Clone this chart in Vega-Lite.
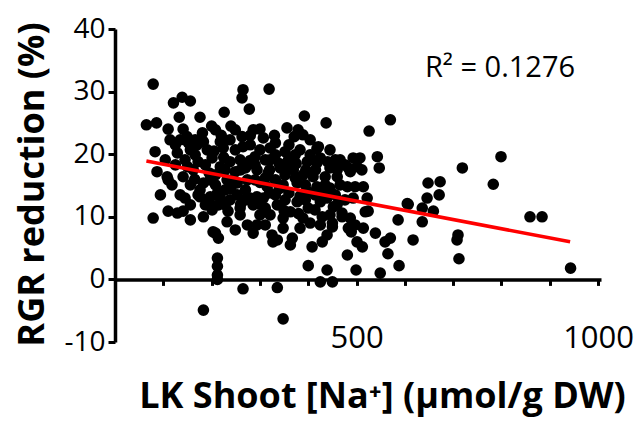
{
  "$schema": "https://vega.github.io/schema/vega-lite/v6.json",
  "width": 486,
  "height": 313,
  "autosize": "none",
  "padding": {"left": 115, "top": 29, "right": 36, "bottom": 81},
  "background": "white",
  "config": {
    "view": {"stroke": null},
    "axis": {"domainColor": "black", "tickColor": "black", "labelColor": "black", "titleColor": "black", "grid": false, "labelFont": "Open Sans", "titleFont": "Open Sans"}
  },
  "datasets": {
    "points": [
      {"na":79,"rgr":31.2},{"na":139,"rgr":29.1},{"na":121,"rgr":28.2},{"na":156,"rgr":28.5},{"na":265,"rgr":30.3},{"na":263,"rgr":29.0},{"na":278,"rgr":27.2},{"na":319,"rgr":30.4},{"na":176,"rgr":25.9},{"na":226,"rgr":26.7},
      {"na":392,"rgr":26.1},{"na":437,"rgr":25.0},{"na":526,"rgr":23.7},{"na":570,"rgr":25.5},{"na":65,"rgr":24.7},{"na":86,"rgr":25.0},{"na":110,"rgr":24.0},{"na":356,"rgr":24.2},{"na":286,"rgr":23.9},{"na":332,"rgr":21.8},
      {"na":371,"rgr":22.8},{"na":133,"rgr":25.9},{"na":141,"rgr":24.0},{"na":149,"rgr":22.8},{"na":181,"rgr":23.4},{"na":135,"rgr":22.3},{"na":152,"rgr":21.8},{"na":183,"rgr":22.0},{"na":218,"rgr":22.0},{"na":238,"rgr":22.3},
      {"na":263,"rgr":22.8},{"na":83,"rgr":20.4},{"na":129,"rgr":20.2},{"na":156,"rgr":20.7},{"na":191,"rgr":20.7},{"na":224,"rgr":21.0},{"na":249,"rgr":20.7},{"na":265,"rgr":21.2},{"na":87,"rgr":17.2},{"na":108,"rgr":16.4},
      {"na":118,"rgr":15.1},{"na":141,"rgr":16.4},{"na":162,"rgr":17.5},{"na":172,"rgr":18.8},{"na":201,"rgr":19.4},{"na":218,"rgr":18.0},{"na":238,"rgr":18.8},{"na":259,"rgr":19.1},{"na":183,"rgr":15.4},{"na":208,"rgr":15.1},
      {"na":232,"rgr":15.9},{"na":253,"rgr":15.4},{"na":274,"rgr":15.9},{"na":94,"rgr":13.5},{"na":172,"rgr":13.5},{"na":212,"rgr":13.8},{"na":253,"rgr":13.5},{"na":110,"rgr":15.9},{"na":379,"rgr":23.9},{"na":389,"rgr":23.1},
      {"na":307,"rgr":22.6},{"na":383,"rgr":20.7},{"na":418,"rgr":20.9},{"na":445,"rgr":20.7},{"na":466,"rgr":19.1},{"na":493,"rgr":19.4},{"na":290,"rgr":19.6},{"na":321,"rgr":19.1},{"na":359,"rgr":19.1},{"na":398,"rgr":18.8},
      {"na":418,"rgr":18.6},{"na":445,"rgr":17.8},{"na":294,"rgr":17.5},{"na":317,"rgr":17.0},{"na":342,"rgr":17.8},{"na":369,"rgr":17.5},{"na":389,"rgr":16.7},{"na":410,"rgr":16.4},{"na":435,"rgr":16.4},{"na":460,"rgr":16.4},
      {"na":487,"rgr":17.2},{"na":501,"rgr":18.0},{"na":315,"rgr":14.8},{"na":348,"rgr":15.1},{"na":377,"rgr":15.4},{"na":418,"rgr":14.8},{"na":445,"rgr":14.6},{"na":481,"rgr":14.8},{"na":497,"rgr":14.8},{"na":294,"rgr":13.2},
      {"na":332,"rgr":13.5},{"na":383,"rgr":13.3},{"na":493,"rgr":13.0},{"na":421,"rgr":21.2},{"na":543,"rgr":19.6},{"na":547,"rgr":17.8},{"na":507,"rgr":19.4},{"na":511,"rgr":17.5},{"na":514,"rgr":14.8},{"na":522,"rgr":13.0},
      {"na":648,"rgr":15.4},{"na":673,"rgr":15.6},{"na":671,"rgr":13.5},{"na":646,"rgr":13.0},{"na":719,"rgr":17.8},{"na":605,"rgr":12.1},{"na":799,"rgr":19.6},{"na":783,"rgr":15.2},{"na":483,"rgr":17.8},{"na":79,"rgr":9.8},
      {"na":110,"rgr":10.9},{"na":129,"rgr":10.6},{"na":141,"rgr":10.9},{"na":156,"rgr":9.5},{"na":183,"rgr":10.0},{"na":201,"rgr":11.1},{"na":214,"rgr":11.9},{"na":234,"rgr":10.9},{"na":232,"rgr":9.2},{"na":259,"rgr":11.4},
      {"na":274,"rgr":8.7},{"na":208,"rgr":7.4},{"na":214,"rgr":6.6},{"na":212,"rgr":3.4},{"na":212,"rgr":2.1},{"na":212,"rgr":0.7},{"na":212,"rgr":0.0},{"na":265,"rgr":-1.5},{"na":183,"rgr":-4.9},{"na":176,"rgr":13.2},
      {"na":197,"rgr":13.2},{"na":218,"rgr":13.0},{"na":238,"rgr":12.7},{"na":336,"rgr":-1.3},{"na":348,"rgr":-6.3},{"na":400,"rgr":2.2},{"na":439,"rgr":1.5},{"na":425,"rgr":-0.4},{"na":450,"rgr":-0.4},{"na":481,"rgr":3.9},
      {"na":499,"rgr":1.5},{"na":286,"rgr":7.4},{"na":327,"rgr":6.0},{"na":363,"rgr":5.5},{"na":408,"rgr":5.2},{"na":429,"rgr":6.0},{"na":439,"rgr":7.1},{"na":367,"rgr":6.6},{"na":325,"rgr":7.1},{"na":294,"rgr":8.7},
      {"na":348,"rgr":8.2},{"na":404,"rgr":9.0},{"na":389,"rgr":9.8},{"na":450,"rgr":8.4},{"na":483,"rgr":8.2},{"na":501,"rgr":6.0},{"na":487,"rgr":9.8},{"na":470,"rgr":10.6},{"na":452,"rgr":11.6},{"na":307,"rgr":13.0},
      {"na":336,"rgr":11.9},{"na":363,"rgr":10.8},{"na":348,"rgr":9.8},{"na":321,"rgr":10.3},{"na":300,"rgr":10.3},{"na":377,"rgr":12.4},{"na":400,"rgr":11.4},{"na":425,"rgr":12.4},{"na":439,"rgr":13.0},{"na":286,"rgr":11.9},
      {"na":524,"rgr":10.9},{"na":539,"rgr":7.4},{"na":549,"rgr":1.0},{"na":565,"rgr":4.1},{"na":588,"rgr":2.2},{"na":559,"rgr":6.0},{"na":570,"rgr":6.6},{"na":617,"rgr":6.3},{"na":586,"rgr":9.5},{"na":607,"rgr":12.0},
      {"na":636,"rgr":9.2},{"na":636,"rgr":11.4},{"na":659,"rgr":10.9},{"na":710,"rgr":7.1},{"na":708,"rgr":6.3},{"na":712,"rgr":3.3},{"na":512,"rgr":5.2},{"na":514,"rgr":8.2},{"na":859,"rgr":10.0},{"na":884,"rgr":10.0},
      {"na":943,"rgr":1.8},{"na":203,"rgr":7.6},{"na":429,"rgr":10.0},{"na":450,"rgr":9.0},{"na":470,"rgr":10.0},{"na":497,"rgr":8.7},{"na":489,"rgr":7.6},{"na":518,"rgr":10.8},{"na":336,"rgr":6.3},
      {"na":166,"rgr":19.9},{"na":187,"rgr":18.3},{"na":208,"rgr":16.7},{"na":228,"rgr":17.5},{"na":249,"rgr":17.2},{"na":270,"rgr":17.8},{"na":290,"rgr":18.3},{"na":311,"rgr":19.1},{"na":332,"rgr":19.9},{"na":352,"rgr":20.4},
      {"na":373,"rgr":19.9},{"na":404,"rgr":19.9},{"na":425,"rgr":19.4},{"na":456,"rgr":19.1},{"na":476,"rgr":18.3},{"na":156,"rgr":15.1},{"na":176,"rgr":14.3},{"na":197,"rgr":15.9},{"na":228,"rgr":14.3},{"na":270,"rgr":14.3},
      {"na":290,"rgr":15.9},{"na":311,"rgr":16.2},{"na":332,"rgr":15.9},{"na":352,"rgr":16.7},{"na":373,"rgr":16.2},{"na":394,"rgr":15.1},{"na":414,"rgr":13.5},{"na":435,"rgr":15.1},{"na":456,"rgr":13.5},{"na":476,"rgr":12.7},
      {"na":156,"rgr":11.9},{"na":187,"rgr":11.9},{"na":228,"rgr":11.9},{"na":270,"rgr":12.7},{"na":311,"rgr":11.4},{"na":352,"rgr":12.7},{"na":394,"rgr":12.7},{"na":414,"rgr":11.1},{"na":445,"rgr":10.3},{"na":466,"rgr":15.1},
      {"na":280,"rgr":21.5},{"na":300,"rgr":20.7},{"na":321,"rgr":21.0},{"na":404,"rgr":22.3},{"na":249,"rgr":23.9},{"na":208,"rgr":23.9},{"na":166,"rgr":22.3},{"na":114,"rgr":22.3},{"na":104,"rgr":19.1},{"na":125,"rgr":18.3},
      {"na":145,"rgr":19.1},{"na":135,"rgr":13.5},{"na":249,"rgr":7.9},{"na":311,"rgr":8.7},{"na":259,"rgr":10.3},{"na":383,"rgr":8.2},{"na":425,"rgr":8.7},
      {"na":150,"rgr":18.0},{"na":170,"rgr":21.5},{"na":195,"rgr":17.0},{"na":205,"rgr":20.5},{"na":225,"rgr":19.5},{"na":245,"rgr":16.0},{"na":260,"rgr":17.5},{"na":280,"rgr":19.0},{"na":300,"rgr":15.5},{"na":320,"rgr":17.5},
      {"na":340,"rgr":18.5},{"na":355,"rgr":17.8},{"na":375,"rgr":18.5},{"na":395,"rgr":17.5},{"na":415,"rgr":17.5},{"na":440,"rgr":18.8},{"na":460,"rgr":17.5},{"na":195,"rgr":12.5},{"na":240,"rgr":14.5},{"na":260,"rgr":12.0},
      {"na":280,"rgr":13.0},{"na":300,"rgr":12.0},{"na":320,"rgr":13.8},{"na":340,"rgr":14.5},{"na":360,"rgr":13.8},{"na":400,"rgr":14.0},{"na":430,"rgr":13.8},{"na":460,"rgr":12.0},{"na":350,"rgr":11.0},{"na":380,"rgr":10.5},
      {"na":145,"rgr":13.0},{"na":165,"rgr":16.0},{"na":125,"rgr":21.5},{"na":200,"rgr":24.5},{"na":220,"rgr":23.0},{"na":240,"rgr":24.5},{"na":280,"rgr":23.0},{"na":300,"rgr":24.0},{"na":330,"rgr":23.0},{"na":360,"rgr":21.5}
    ],
    "fit": [
      {"na": 65, "rgr": 18.9},
      {"na": 942, "rgr": 6.0}
    ]
  },
  "layer": [
    {
      "data": {"name": "points"},
      "mark": {"type": "circle", "size": 135, "color": "black", "opacity": 1},
      "encoding": {
        "x": {
          "field": "na", "type": "quantitative",
          "scale": {"domain": [0, 1006], "nice": false, "zero": false},
          "axis": {
            "title": "LK Shoot [Na⁺] (µmol/g DW)",
            "values": [100, 200, 300, 400, 500, 600, 700, 800, 900, 1000],
            "format": "d",
            "offset": -62.6,
            "domainWidth": 3.5,
            "tickWidth": 3,
            "tickSize": 6,
            "labelFontSize": 31,
            "labelPadding": 62,
            "labelBaseline": "alphabetic",
            "labelFlush": false,
            "labelOverlap": false,
            "labelDx": -4,
            "labelExpr": "datum.value == 500 || datum.value == 1000 ? datum.label : ''",
            "titleFontSize": 36,
            "titleFontWeight": "bold",
            "titleX": 267,
            "titleY": 128,
            "titleAlign": "center",
            "titleBaseline": "alphabetic"
          }
        },
        "y": {
          "field": "rgr", "type": "quantitative",
          "scale": {"domain": [-10, 40], "nice": false, "zero": false},
          "axis": {
            "title": "RGR reduction (%)",
            "values": [-10, 0, 10, 20, 30, 40],
            "domainWidth": 3.5,
            "tickWidth": 3,
            "tickSize": 7,
            "labelFontSize": 28,
            "labelPadding": 3,
            "labelFlush": false,
            "labelOverlap": false,
            "labelExpr": "replace(datum.label, '\u2212', '-')",
            "titleFontSize": 36,
            "titleFontWeight": "bold",
            "titleX": -72,
            "titleY": 155,
            "titleAlign": "center",
            "titleBaseline": "alphabetic"
          }
        }
      }
    },
    {
      "data": {"name": "fit"},
      "mark": {"type": "line", "color": "#ff0000", "strokeWidth": 3.5},
      "encoding": {
        "x": {"field": "na", "type": "quantitative"},
        "y": {"field": "rgr", "type": "quantitative"}
      }
    },
    {
      "data": {"values": [{"label": "R² = 0.1276"}]},
      "mark": {"type": "text", "font": "Open Sans", "fontSize": 29, "color": "black", "align": "center", "baseline": "middle"},
      "encoding": {
        "text": {"field": "label"},
        "x": {"datum": 797, "type": "quantitative"},
        "y": {"datum": 33.8, "type": "quantitative"}
      }
    }
  ]
}
